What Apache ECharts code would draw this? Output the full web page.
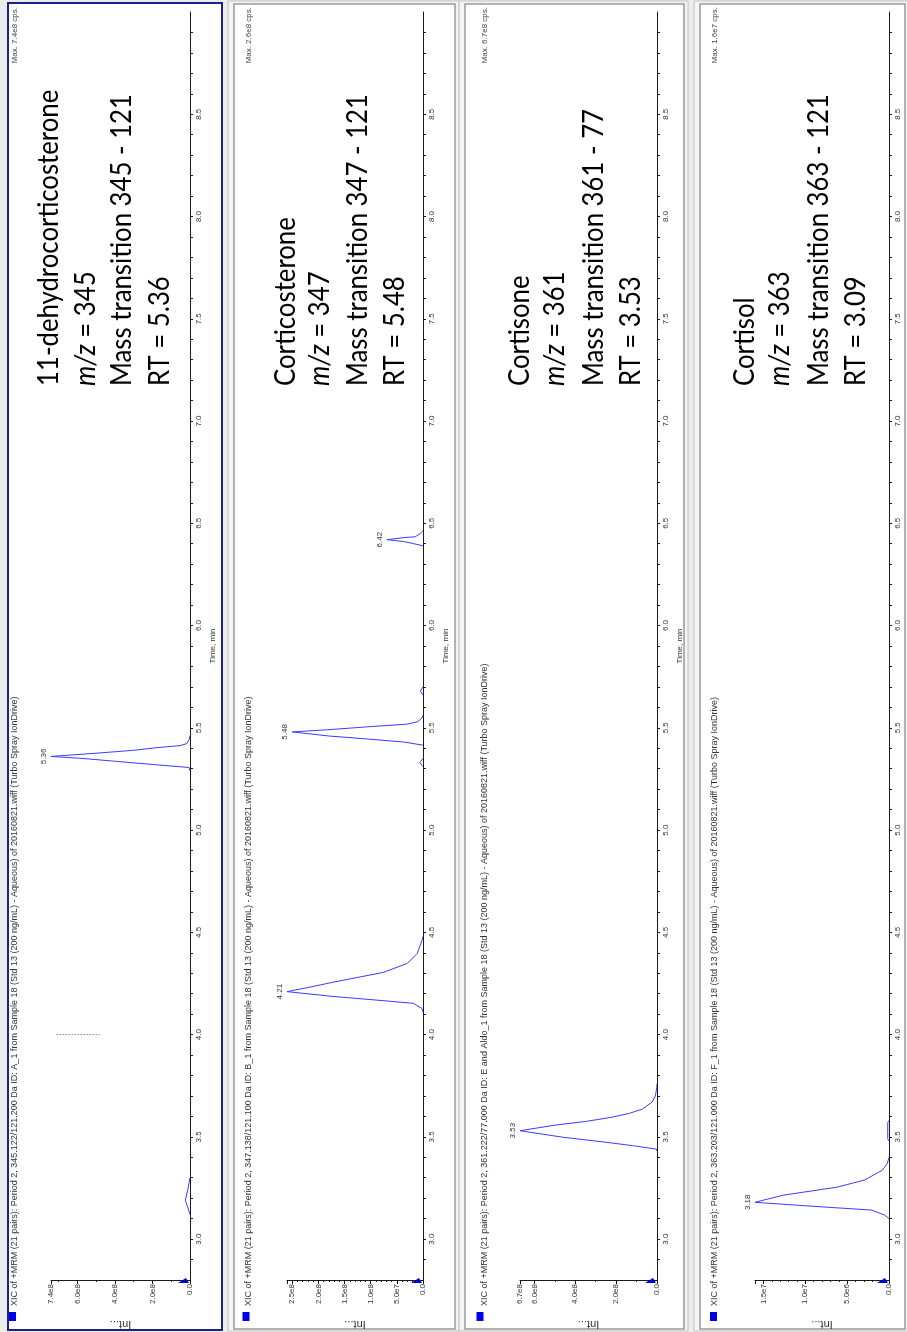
<!DOCTYPE html>
<html>
<head>
<meta charset="utf-8">
<script src="https://cdn.jsdelivr.net/npm/echarts@6/dist/echarts.min.js"></script>
<style>
  html, body { margin: 0; padding: 0; background: #ececec; }
  #chart { width: 907px; height: 1332px; }
</style>
</head>
<body>
<div id="chart"></div>
<script>
// ---- data -------------------------------------------------------------
// Retention-time values that carry a tick label (min)
const timeLabels = [3.0, 3.5, 4.0, 4.5, 5.0, 5.5, 6.0, 6.5, 7.0, 7.5, 8.0, 8.5];

// Chromatogram segments, each point = [retention time (min), intensity (cps)]
const dehydroBump = [[3.12, 0], [3.156, 0.12e8], [3.19, 0.25e8], [3.24, 0.12e8], [3.30, 0]];
const dehydroPeak = [[5.29, 0], [5.306, 0.05e8], [5.32, 1.9e8], [5.335, 3.8e8], [5.35, 5.7e8], [5.36, 7.4e8],
  [5.375, 5.1e8], [5.39, 3.0e8], [5.403, 1.76e8], [5.413, 0.53e8], [5.423, 0.16e8], [5.442, 0.05e8], [5.46, 0]];

const corticosteronePeakA = [[4.11, 0], [4.128, 0.02e8], [4.153, 0.19e8], [4.168, 0.86e8], [4.187, 1.74e8],
  [4.21, 2.6e8], [4.23, 2.2e8], [4.256, 1.72e8], [4.28, 1.24e8], [4.304, 0.76e8], [4.348, 0.30e8],
  [4.397, 0.11e8], [4.46, 0.02e8], [4.48, 0]];
const corticosteroneBlipA = [[5.31, 0], [5.33, 0.06e8], [5.35, 0]];
const corticosteronePeakB = [[5.415, 0], [5.43, 0.35e8], [5.445, 1.05e8], [5.46, 1.8e8], [5.48, 2.5e8],
  [5.49, 1.85e8], [5.505, 1.05e8], [5.518, 0.3e8], [5.53, 0.1e8], [5.548, 0.02e8], [5.56, 0]];
const corticosteroneBlipB = [[5.66, 0], [5.68, 0.05e8], [5.70, 0]];
const corticosteronePeakC = [[6.39, 0], [6.395, 0.02e8], [6.41, 0.35e8], [6.42, 0.69e8], [6.43, 0.36e8],
  [6.434, 0.15e8], [6.45, 0.05e8], [6.465, 0]];

const cortisonePeak = [[3.43, 0], [3.44, 0.03e8], [3.457, 1.2e8], [3.474, 2.54e8], [3.498, 4.6e8], [3.53, 6.7e8],
  [3.557, 5.0e8], [3.575, 3.5e8], [3.596, 2.2e8], [3.615, 1.35e8], [3.635, 0.73e8], [3.67, 0.24e8],
  [3.70, 0.08e8], [3.74, 0.01e8], [3.76, 0]];

const cortisolPeak = [[3.10, 0], [3.117, 0.05e7], [3.142, 0.21e7], [3.161, 0.93e7], [3.18, 1.6e7],
  [3.215, 1.26e7], [3.254, 0.62e7], [3.289, 0.29e7], [3.337, 0.08e7], [3.37, 0.02e7], [3.40, 0]];
const cortisolBump = [[3.48, 0], [3.49, 0.015e7], [3.57, 0.015e7], [3.58, 0]];

// Per-panel descriptors
const compoundNames = ['11-dehydrocorticosterone', 'Corticosterone', 'Cortisone', 'Cortisol'];
const precursorMz = ['345', '347', '361', '363'];
const transitions = ['345 - 121', '347 - 121', '361 - 77', '363 - 121'];
const annotatedRT = ['5.36', '5.48', '3.53', '3.09'];
const intensityMax = [7.4e8, 2.6e8, 6.7e8, 1.6e7];
const intensityStep = [2e8, 5e7, 2e8, 5e6];
const xicHeaders = [
  'XIC of +MRM (21 pairs): Period 2, 345.122/121.200 Da ID: A_1 from Sample 18 (Std 13 (200 ng/mL) - Aqueous) of 20160821.wiff (Turbo Spray IonDrive)',
  'XIC of +MRM (21 pairs): Period 2, 347.138/121.100 Da ID: B_1 from Sample 18 (Std 13 (200 ng/mL) - Aqueous) of 20160821.wiff (Turbo Spray IonDrive)',
  'XIC of +MRM (21 pairs): Period 2, 361.222/77.000 Da ID: E and Aldo_1 from Sample 18 (Std 13 (200 ng/mL) - Aqueous) of 20160821.wiff (Turbo Spray IonDrive)',
  'XIC of +MRM (21 pairs): Period 2, 363.203/121.000 Da ID: F_1 from Sample 18 (Std 13 (200 ng/mL) - Aqueous) of 20160821.wiff (Turbo Spray IonDrive)'
];
const panelSegments = [
  [dehydroBump, dehydroPeak],
  [corticosteronePeakA, corticosteroneBlipA, corticosteronePeakB, corticosteroneBlipB, corticosteronePeakC],
  [cortisonePeak],
  [cortisolPeak, cortisolBump]
];
const TIME_MIN = 2.8, TIME_MAX = 9.0;

// ---- layout (pixels) -----------------------------------------------
const frames = [[8, 3, 222, 1330], [234, 4, 455, 1329], [465, 4, 684, 1329], [700, 4, 905, 1329]];
const plotLeft = [51, 287, 520, 755];
const plotRight = [190, 423, 657, 889];
const plotTop = 12, plotBottom = 1280;
const headerX = [15, 249, 485, 715];
const squareX = [12.5, 246, 480, 713.5];
const blockLineX = [[49, 86, 122, 160], [286, 320, 358, 395], [520, 555, 594, 631], [745, 780, 819, 856]];
const blockStartY = 386;

const SMALL = 'Liberation Sans, Arial, sans-serif';
const BIG = 'Lato, Calibri, sans-serif';
const LINE_BLUE = '#3c3cff';
const AXIS_COLOR = '#1a1a1a';
const TEXT_GRAY = '#333';

const fmtIntensity = v => (v === 0 ? '0.0' : v.toExponential(1).replace('+', ''));

const chart = echarts.init(document.getElementById('chart'), null, { renderer: 'canvas' });

const grids = [], xAxes = [], yAxes = [], series = [];
for (let i = 0; i < 4; i++) {
  grids.push({
    left: plotLeft[i], top: plotTop,
    width: plotRight[i] - plotLeft[i], height: plotBottom - plotTop,
    containLabel: false, outerBoundsMode: 'none', show: false
  });
  xAxes.push({
    gridIndex: i, type: 'value', inverse: true, position: 'bottom',
    min: 0, max: intensityMax[i], interval: intensityStep[i], z: 3,
    axisLine: { show: true, onZero: false, lineStyle: { color: AXIS_COLOR, width: 1 } },
    axisTick: { show: true, length: 4, lineStyle: { color: AXIS_COLOR } },
    minorTick: { show: true, splitNumber: (i === 1 || i === 3) ? 5 : 2, length: 2, lineStyle: { color: AXIS_COLOR } },
    splitLine: { show: false },
    axisLabel: {
      rotate: 90, fontSize: 8, fontFamily: SMALL, color: TEXT_GRAY, margin: 4,
      showMaxLabel: (i === 0 || i === 2), showMinLabel: true, hideOverlap: false,
      formatter: fmtIntensity
    }
  });
  yAxes.push({
    gridIndex: i, type: 'value', position: 'right',
    min: TIME_MIN, max: TIME_MAX, interval: 0.1, z: 3,
    axisLine: { show: true, onZero: false, lineStyle: { color: AXIS_COLOR, width: 1 } },
    axisTick: { show: true, length: 3, lineStyle: { color: AXIS_COLOR } },
    splitLine: { show: false },
    axisLabel: {
      rotate: 90, fontSize: 8, fontFamily: SMALL, color: TEXT_GRAY, margin: 5,
      showMinLabel: false, showMaxLabel: false, hideOverlap: false,
      formatter: v => {
        const r = Math.round(v * 10) / 10;
        return timeLabels.some(t => Math.abs(t - r) < 1e-6) ? r.toFixed(1) : '';
      }
    }
  });
  panelSegments[i].forEach(seg => {
    series.push({
      type: 'line', xAxisIndex: i, yAxisIndex: i,
      data: seg.map(([t, v]) => [v, t]),
      symbol: 'none', showSymbol: false, silent: true, z: 2,
      lineStyle: { color: LINE_BLUE, width: 1 }
    });
  });
}

chart.setOption({
  animation: false,
  backgroundColor: '#ececec',
  grid: grids, xAxis: xAxes, yAxis: yAxes, series: series
});

// ---- decorations and annotations ------------------------------------
const g = [];
frames.forEach(([x0, y0, x1, y1], i) => {
  if (i === 0) {
    g.push({ type: 'rect', z: -1, shape: { x: x0, y: y0, width: x1 - x0, height: y1 - y0 },
      style: { fill: '#fff', stroke: '#1f1f8a', lineWidth: 2 } });
  } else {
    g.push({ type: 'rect', z: -1, shape: { x: x0 - 6, y: y0 - 3, width: x1 - x0 + 10, height: y1 - y0 + 5 },
      style: { fill: '#f4f4f4', stroke: '#c2c2c2', lineWidth: 1 } });
    g.push({ type: 'rect', z: -1, shape: { x: x0, y: y0, width: x1 - x0, height: y1 - y0 },
      style: { fill: '#fff', stroke: '#9a9a9a', lineWidth: 1.5 } });
  }
});

for (let i = 0; i < 4; i++) {
  // header line and legend square
  g.push({ type: 'rect', z: 5, shape: { x: squareX[i] - 3.5, y: 1312, width: 7, height: 9 },
    style: { fill: '#0000e6' } });
  g.push({ type: 'text', z: 5, x: headerX[i], y: 1306, rotation: Math.PI / 2,
    style: { text: xicHeaders[i], font: '9px ' + SMALL, fill: TEXT_GRAY, align: 'left', verticalAlign: 'middle' } });
  g.push({ type: 'text', z: 5, x: headerX[i], y: 7, rotation: Math.PI / 2,
    style: { text: 'Max. ' + fmtIntensity(intensityMax[i]) + ' cps.', font: '8px ' + SMALL, fill: '#444',
      align: 'right', verticalAlign: 'middle' } });
  // axis titles
  g.push({ type: 'text', z: 5, x: (plotLeft[i] + plotRight[i]) / 2, y: 1324, rotation: Math.PI,
    style: { text: 'Int...', font: '11px ' + SMALL, fill: TEXT_GRAY, align: 'center', verticalAlign: 'middle' } });
  g.push({ type: 'text', z: 5, x: plotRight[i] + 23, y: (plotTop + plotBottom) / 2, rotation: Math.PI / 2,
    style: { text: 'Time, min', font: '8px ' + SMALL, fill: TEXT_GRAY, align: 'center', verticalAlign: 'middle' } });
  // zero marker on the intensity axis
  const ax = plotRight[i];
  g.push({ type: 'polygon', z: 5, shape: { points: [[ax - 12, plotBottom + 3], [ax - 1, plotBottom + 3], [ax - 4, plotBottom - 2]] },
    style: { fill: '#0000d0' } });

  // apex labels for the main peaks
  panelSegments[i].forEach(seg => {
    const apex = seg.reduce((a, b) => (b[1] > a[1] ? b : a));
    if (apex[1] < 0.1 * intensityMax[i]) return;
    const p = chart.convertToPixel({ gridIndex: i }, [apex[1], apex[0]]);
    g.push({ type: 'text', z: 5, x: p[0] - 3, y: p[1], rotation: Math.PI / 2,
      style: { text: apex[0].toFixed(2), font: '8px ' + SMALL, fill: TEXT_GRAY, align: 'center', verticalAlign: 'bottom' } });
  });

  // compound annotation block
  const lines = [
    compoundNames[i],
    '{i|m/z}{n| = ' + precursorMz[i] + '}',
    'Mass transition ' + transitions[i],
    'RT = ' + annotatedRT[i]
  ];
  lines.forEach((text, k) => {
    g.push({ type: 'text', z: 6, x: blockLineX[i][k], y: blockStartY, rotation: Math.PI / 2, scaleX: 0.92,
      style: {
        text: text, font: '28px ' + BIG, fill: '#000', align: 'left', verticalAlign: 'middle',
        rich: {
          i: { fontStyle: 'italic', fontSize: 28, fontFamily: BIG, fill: '#000' },
          n: { fontSize: 28, fontFamily: BIG, fill: '#000' }
        }
      } });
  });
}

// dotted cursor line in the first panel at 4.0 min
const c0 = chart.convertToPixel({ gridIndex: 0 }, [7.1e8, 4.0]);
const c1 = chart.convertToPixel({ gridIndex: 0 }, [4.7e8, 4.0]);
g.push({ type: 'line', z: 5, shape: { x1: c0[0], y1: c0[1], x2: c1[0], y2: c1[1] },
  style: { stroke: '#444', lineWidth: 1, lineDash: [1, 2] } });

chart.setOption({ graphic: { elements: g } });
</script>
</body>
</html>
